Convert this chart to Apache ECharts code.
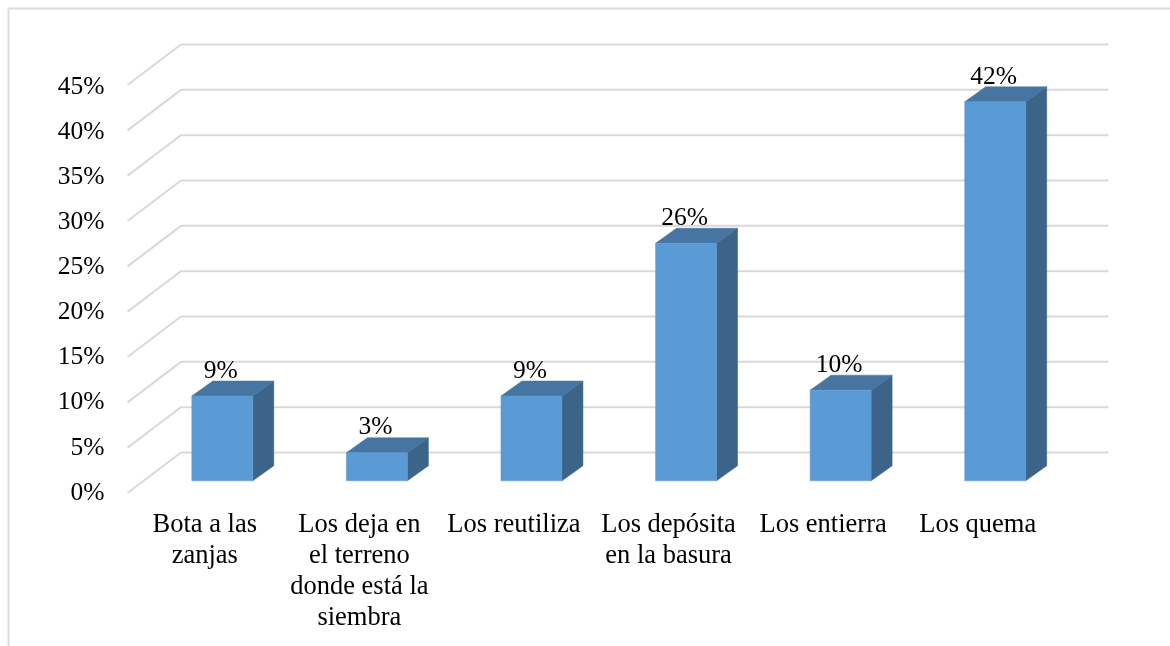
<!DOCTYPE html>
<html><head><meta charset="utf-8">
<style>html,body{margin:0;padding:0;background:#fff}#c{width:1170px;height:646px}</style>
<script src="https://cdn.jsdelivr.net/npm/echarts@6/dist/echarts.min.js"></script>
</head><body><div id="c"></div>
<script>
const categories = ['Bota a las\nzanjas','Los deja en\nel terreno\ndonde está la\nsiembra','Los reutiliza','Los depósita\nen la basura','Los entierra','Los quema'];
const values = [9.35, 3.1, 9.35, 26.2, 10, 41.8];
const yTicks = [0,5,10,15,20,25,30,35,40,45];

const FONT = '"Liberation Serif","Times New Roman",serif';
const WALL_DX = 53.5, WALL_DY = -40.5;   // oblique depth of the chart floor
const BAR_SHIFT = 17.5, BAR_RISE = 12.2; // front face of a bar within the depth
const BAR_W = 61, BAR_DX = 21, BAR_DY = -15;

const chart = echarts.init(document.getElementById('c'), null, {renderer:'canvas'});
chart.setOption({
  animation:false,
  backgroundColor:'#fff',
  grid:[
    {left:127.5,right:115,top:85,bottom:153,containLabel:false},
    {left:127.5,right:115,top:87,bottom:153,containLabel:false}
  ],
  xAxis:[
    {type:'category',gridIndex:0,data:categories,
     axisLine:{show:false},axisTick:{show:false},splitLine:{show:false},
     axisLabel:{interval:0,margin:17,color:'#000',fontFamily:FONT,fontSize:26.5,lineHeight:31,align:'center',hideOverlap:false}},
    {type:'category',gridIndex:1,data:categories,show:false}
  ],
  yAxis:[
    {type:'value',gridIndex:0,min:0,max:45,interval:5,show:false,splitLine:{show:false}},
    {type:'value',gridIndex:1,min:0,max:45,interval:5,
     axisLine:{show:false},axisTick:{show:false},splitLine:{show:false},
     axisLabel:{margin:23,color:'#000',fontFamily:FONT,fontSize:25.5,formatter:'{value}%'}}
  ],
  graphic:[
    {type:'line',silent:true,z:0,shape:{x1:8.5,y1:8.5,x2:1170,y2:8.5},style:{stroke:'#dcdcdc',lineWidth:2}},
    {type:'line',silent:true,z:0,shape:{x1:8.5,y1:8.5,x2:8.5,y2:646},style:{stroke:'#dcdcdc',lineWidth:2}}
  ],
  series:[
    {type:'custom',z:1,silent:true,clip:false,xAxisIndex:0,yAxisIndex:0,
     data:yTicks.map(v=>[0,v]),
     renderItem(params,api){
       const p=api.coord([0,api.value(1)]);
       const band=api.size([1,0])[0];
       const x0=p[0]-band/2, x1=x0+band*categories.length;
       return {type:'polyline',shape:{points:[[x0,p[1]],[x0+WALL_DX,p[1]+WALL_DY],[x1+WALL_DX,p[1]+WALL_DY]]},
         style:{stroke:'#d9d9d9',lineWidth:2,fill:null}};
     }},
    {type:'custom',z:2,silent:true,clip:false,xAxisIndex:0,yAxisIndex:0,
     data:values.map((v,i)=>[i,v]),
     renderItem(params,api){
       const v=api.value(1);
       const top=api.coord([api.value(0),v]), base=api.coord([api.value(0),0]);
       const l=top[0]+BAR_SHIFT-BAR_W/2, r=l+BAR_W;
       const t=top[1]-BAR_RISE, b=base[1]-BAR_RISE;
       const poly=(pts,c)=>({type:'polygon',shape:{points:pts},style:{fill:c,stroke:c,lineWidth:0.5}});
       return {type:'group',children:[
         poly([[r,t],[r+BAR_DX,t+BAR_DY],[r+BAR_DX,b+BAR_DY],[r,b]],'#3b6488'),
         poly([[l,t],[l+BAR_DX,t+BAR_DY],[r+BAR_DX,t+BAR_DY],[r,t]],'#4675a1'),
         poly([[l,t],[r,t],[r,b],[l,b]],'#5b9bd5'),
         {type:'text',z2:5,style:{text:Math.round(v)+'%',x:(l+r)/2-1.5,y:t-25,align:'center',verticalAlign:'middle',
           fill:'#000',font:'25.5px '+FONT}}
       ]};
     }}
  ]
});
</script></body></html>
